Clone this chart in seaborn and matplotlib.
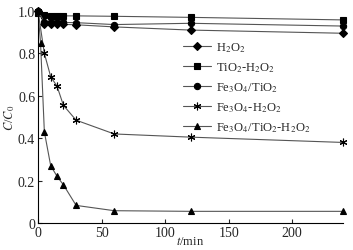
import matplotlib
matplotlib.use('Agg')
import matplotlib.pyplot as plt
import seaborn as sns
import pandas as pd

t_main = [0, 5, 10, 15, 20, 30, 60, 120, 240]
t_fast = [0, 2, 5, 10, 15, 20, 30, 60, 120, 240]

h2o2 = [1.0, 0.94, 0.937, 0.937, 0.937, 0.935, 0.925, 0.91, 0.895]
tio2_h2o2 = [0.99, 0.98, 0.977, 0.977, 0.977, 0.977, 0.975, 0.97, 0.958]
fe3o4_tio2 = [1.0, 0.948, 0.946, 0.946, 0.946, 0.945, 0.936, 0.942, 0.929]
fe3o4_h2o2 = [1.0, 0.80, 0.69, 0.645, 0.555, 0.485, 0.42, 0.405, 0.38]
fe3o4_tio2_h2o2 = [1.0, 0.85, 0.43, 0.27, 0.22, 0.18, 0.083, 0.058, 0.055, 0.055]

labels = ['H$_2$O$_2$', 'TiO$_2$-H$_2$O$_2$', 'Fe$_3$O$_4$/TiO$_2$',
          'Fe$_3$O$_4$-H$_2$O$_2$', 'Fe$_3$O$_4$/TiO$_2$-H$_2$O$_2$']
series = [(t_main, h2o2), (t_main, tio2_h2o2), (t_main, fe3o4_tio2),
          (t_main, fe3o4_h2o2), (t_fast, fe3o4_tio2_h2o2)]
markers = ['D', 's', 'o', (6, 2, 0), '^']
msizes = [3.8, 4.5, 4.5, 5.5, 4.5]

sns.set_style('ticks')
plt.rcParams['font.family'] = ['Liberation Serif', 'DejaVu Serif']
plt.rcParams['mathtext.fontset'] = 'stix'

fig = plt.figure(figsize=(3.53, 2.51), dpi=100)
ax = fig.add_axes([38 / 353, 1 - 224 / 251, 305 / 353, 212 / 251])

for (t, v), lab, m, ms in zip(series, labels, markers, msizes):
    df = pd.DataFrame({'t': t, 'c': v})
    sns.lineplot(data=df, x='t', y='c', ax=ax, color='#555555', lw=0.8,
                 marker=m, markersize=ms, markerfacecolor='black',
                 markeredgecolor='black', markeredgewidth=0.8,
                 label=lab, clip_on=False)

ax.set_xlim(0, 240)
ax.set_ylim(0, 1.0)
ax.set_xticks([0, 50, 100, 150, 200])
ax.set_yticks([0, 0.2, 0.4, 0.6, 0.8, 1.0])
ax.set_yticklabels(['0', '0.2', '0.4', '0.6', '0.8', '1.0'])
ax.tick_params(direction='in', length=3, width=0.8, labelsize=10, pad=2)
sns.despine(ax=ax)
for s in ['left', 'bottom']:
    ax.spines[s].set_linewidth(0.8)
    ax.spines[s].set_color('black')

ax.set_xlabel('$t$/min', fontsize=9)
ax.set_ylabel('$C$/$C_0$', fontsize=9)
ax.xaxis.set_label_coords(0.5, -0.058)
ax.yaxis.set_label_coords(-0.068, 0.5)

leg = ax.legend(loc='upper left', bbox_to_anchor=(183 / 353, 1 - 41 / 251),
                bbox_transform=fig.transFigure, frameon=False, fontsize=9,
                handlelength=2.2, handletextpad=0.4, labelspacing=0.5,
                borderaxespad=0, borderpad=0)

fig.savefig('out.png', dpi=100)
